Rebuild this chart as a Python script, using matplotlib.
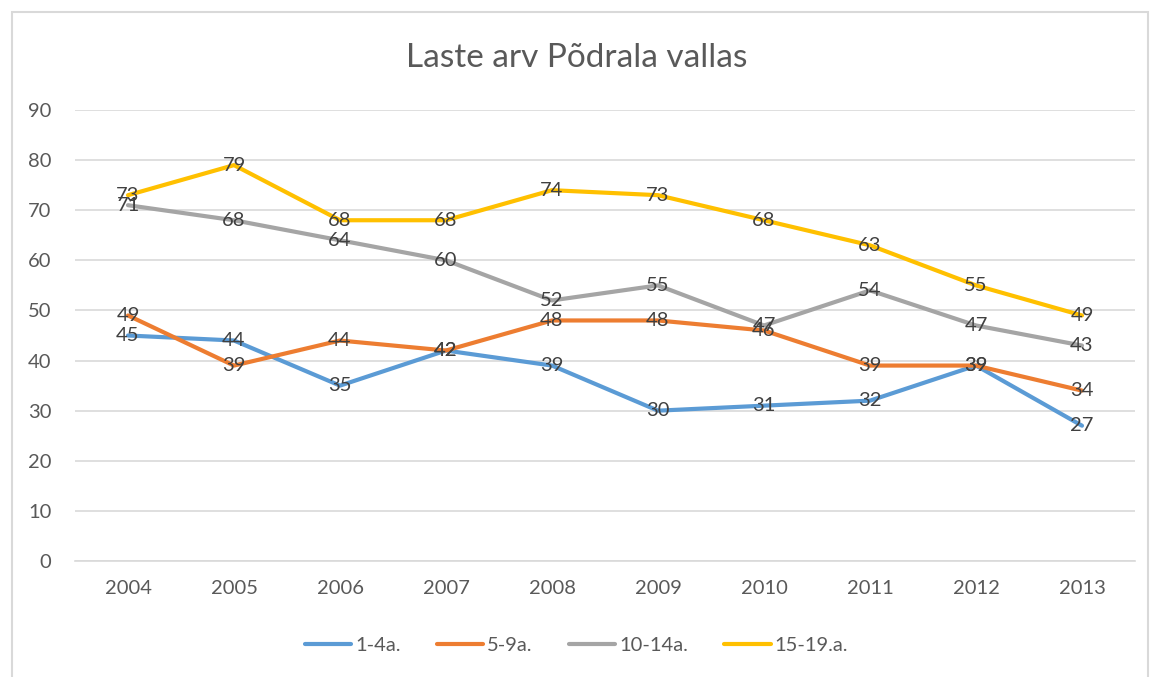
import matplotlib.pyplot as plt
from matplotlib.patches import Rectangle

years = ['2004', '2005', '2006', '2007', '2008', '2009', '2010', '2011', '2012', '2013']
series_names = ['1-4a.', '5-9a.', '10-14a.', '15-19.a.']
age_1_4 = [45, 44, 35, 42, 39, 30, 31, 32, 39, 27]
age_5_9 = [49, 39, 44, 42, 48, 48, 46, 39, 39, 34]
age_10_14 = [71, 68, 64, 60, 52, 55, 47, 54, 47, 43]
age_15_19 = [73, 79, 68, 68, 74, 73, 68, 63, 55, 49]

colors = ['#5B9BD5', '#ED7D31', '#A5A5A5', '#FFC000']
text_col = '#595959'

plt.rcParams['font.family'] = ['Lato', 'DejaVu Sans']

fig = plt.figure(figsize=(11.53, 6.77), dpi=100)
ax = fig.add_axes([75 / 1153, 1 - 561 / 677, 1060 / 1153, 451 / 677])

# light frame around the whole chart
fig.patches.append(Rectangle((12 / 1153, -0.01), 1136 / 1153, 1 - 12 / 677 + 0.01,
                             transform=fig.transFigure, fill=False,
                             edgecolor='#D9D9D9', linewidth=1.5))

x = list(range(len(years)))
all_series = [age_1_4, age_5_9, age_10_14, age_15_19]
for vals, name, c in zip(all_series, series_names, colors):
    ax.plot(x, vals, color=c, linewidth=3, label=name, solid_capstyle='round')
for vals in all_series:
    for xi, v in zip(x, vals):
        ax.text(xi, v, str(v), ha='center', va='center', fontsize=14.5, color='#404040')

ax.set_xlim(-0.5, len(years) - 0.5)
ax.set_ylim(0, 90)
ax.set_yticks(range(0, 91, 10))
ax.set_xticks(x)
ax.set_xticklabels(years)
ax.grid(axis='y', color='#D9D9D9', linewidth=1.2)
ax.set_axisbelow(True)
for s in ['top', 'right', 'left']:
    ax.spines[s].set_visible(False)
ax.spines['bottom'].set_color('#D9D9D9')
ax.spines['bottom'].set_linewidth(1.2)
ax.tick_params(length=0, labelsize=14.5, colors=text_col)
ax.tick_params(axis='x', pad=14)
ax.tick_params(axis='y', pad=17)

fig.text(0.5, 1 - 58 / 677, 'Laste arv Põdrala vallas', ha='center', va='center',
         fontsize=24, color=text_col)

fig.legend(loc='center', bbox_to_anchor=(0.5, 1 - 645 / 677), ncol=4, frameon=False,
           fontsize=14.5, labelcolor=text_col, handlelength=2.3, handletextpad=0.2,
           columnspacing=1.8)

fig.savefig('out.png', dpi=100)
